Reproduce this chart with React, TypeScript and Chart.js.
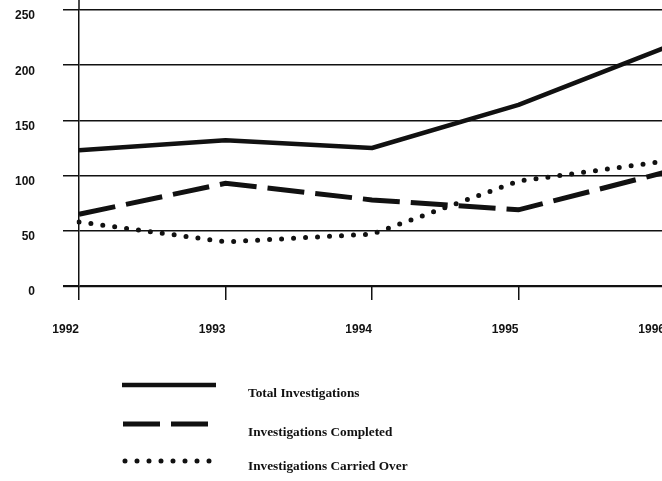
import React, { useEffect, useRef } from "react";
import { Chart, registerables } from "chart.js";

Chart.register(...registerables);

// ---- data ----
const years = ["1992", "1993", "1994", "1995", "1996"];
const totalInvestigations = [123, 132, 125, 164, 216];
const investigationsCompleted = [65, 93, 78, 69, 103];
const investigationsCarriedOver = [58, 40, 47, 95, 113];
const yTickValues = [0, 50, 100, 150, 200, 250];
const seriesLabels = [
  "Total Investigations",
  "Investigations Completed",
  "Investigations Carried Over",
];

const INK = "#111";

// legend drawn below the plot, listing each dataset with its own line style
const legendPlugin = {
  id: "stackedLegend",
  afterDraw(chart: any) {
    const ctx = chart.ctx;
    const { left, top, bottom } = chart.chartArea;
    ctx.save();
    // vertical axis continues up to the top edge
    ctx.strokeStyle = INK;
    ctx.lineWidth = 1.5;
    ctx.setLineDash([]);
    ctx.beginPath();
    ctx.moveTo(left, 0);
    ctx.lineTo(left, top);
    ctx.stroke();

    const rowOffsets = [99, 138, 175];
    const textOffsets = [12, 12, 9];
    const sampleStart = [122, 123, 125];
    const sampleEnd = [216, 208, 210];
    const textX = 248;
    chart.data.datasets.forEach((ds: any, i: number) => {
      const y = bottom + rowOffsets[i];
      ctx.strokeStyle = ds.borderColor;
      ctx.lineWidth = ds.borderWidth;
      ctx.setLineDash(ds.borderDash || []);
      ctx.lineCap = ds.borderCapStyle || "butt";
      ctx.beginPath();
      ctx.moveTo(sampleStart[i], y);
      ctx.lineTo(sampleEnd[i], y);
      ctx.stroke();
      ctx.setLineDash([]);
      ctx.fillStyle = INK;
      ctx.font = "bold 13.3px 'Liberation Serif', serif";
      ctx.textAlign = "left";
      ctx.textBaseline = "alphabetic";
      ctx.fillText(ds.label, textX, y + textOffsets[i]);
    });
    ctx.restore();
  },
};

export default function App() {
  const canvasRef = useRef<HTMLCanvasElement | null>(null);

  useEffect(() => {
    if (!canvasRef.current) return;
    const chart = new Chart(canvasRef.current, {
      type: "line",
      data: {
        labels: years,
        datasets: [
          {
            label: seriesLabels[0],
            data: totalInvestigations,
            borderColor: INK,
            borderWidth: 4.5,
            borderCapStyle: "butt",
            borderJoinStyle: "round",
            pointRadius: 0,
            tension: 0,
            fill: false,
          },
          {
            label: seriesLabels[1],
            data: investigationsCompleted,
            borderColor: INK,
            borderWidth: 5,
            borderDash: [37, 11],
            borderCapStyle: "butt",
            pointRadius: 0,
            tension: 0,
            fill: false,
          },
          {
            label: seriesLabels[2],
            data: investigationsCarriedOver,
            borderColor: INK,
            borderWidth: 5,
            borderDash: [0, 12],
            borderCapStyle: "round",
            pointRadius: 0,
            tension: 0,
            fill: false,
          },
        ],
      },
      options: {
        responsive: false,
        animation: false,
        events: [],
        layout: { padding: { left: 0, right: 35, top: 10, bottom: 135 } },
        plugins: {
          legend: { display: false },
          tooltip: { enabled: false },
          title: { display: false },
        },
        scales: {
          x: {
            type: "category",
            offset: false,
            afterFit: (scale: any) => {
              scale.height = 60;
            },
            border: { display: false },
            grid: {
              display: true,
              drawOnChartArea: false,
              drawTicks: true,
              tickLength: 14,
              color: INK,
              lineWidth: 1.5,
            },
            ticks: {
              align: "end",
              padding: 22,
              color: INK,
              maxRotation: 0,
              autoSkip: false,
              font: { family: "'Liberation Sans', Arial, sans-serif", size: 12, weight: "bold" },
            },
          },
          y: {
            min: 0,
            max: 250,
            afterFit: (scale: any) => {
              scale.width = 79;
              scale.paddingTop = 0;
              scale.paddingBottom = 0;
            },
            afterBuildTicks: (scale: any) => {
              scale.ticks = yTickValues.map((v) => ({ value: v }));
            },
            border: { display: true, color: INK, width: 1.5 },
            grid: {
              display: true,
              drawTicks: true,
              tickLength: 16,
              color: INK,
              lineWidth: (c: any) => (c.tick && c.tick.value === 0 ? 2.2 : 1.5),
            },
            ticks: {
              padding: 28,
              labelOffset: 6,
              color: INK,
              font: { family: "'Liberation Sans', Arial, sans-serif", size: 12, weight: "bold" },
            },
          },
        },
      },
      plugins: [legendPlugin],
    } as any);
    return () => chart.destroy();
  }, []);

  return (
    <div
      style={{
        position: "fixed",
        left: 0,
        top: 0,
        width: 662,
        height: 481,
        overflow: "hidden",
        background: "#fff",
      }}
    >
      <canvas ref={canvasRef} width={700} height={481} style={{ display: "block" }} />
    </div>
  );
}
